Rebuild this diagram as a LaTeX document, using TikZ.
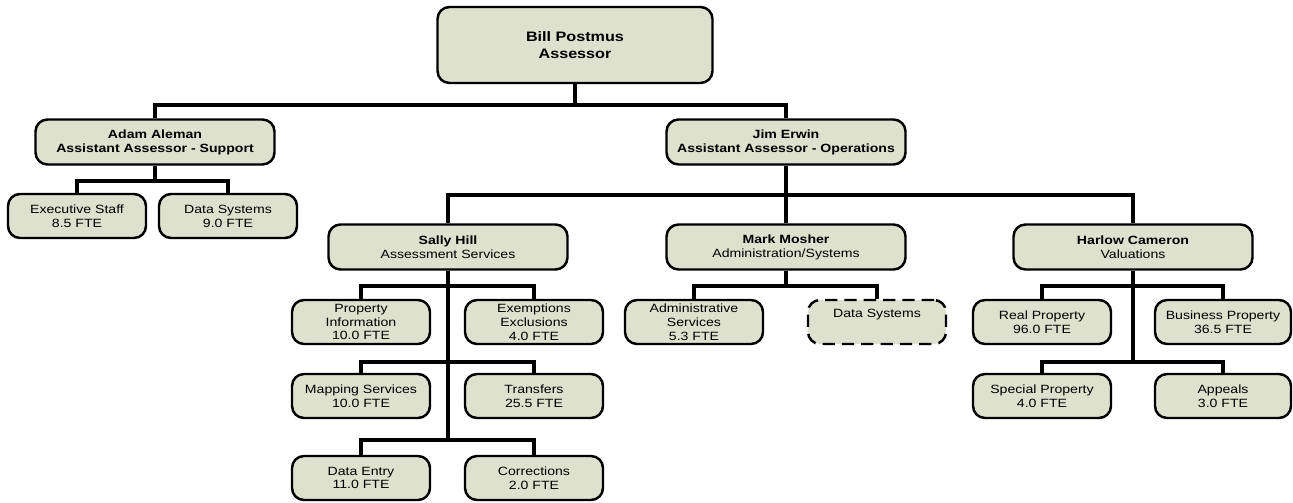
\documentclass[tikz,border=0pt]{standalone}
\usepackage{fontspec}
\setmainfont[FakeStretch=1.18]{Liberation Sans}
\usepackage{tikz}
\definecolor{boxfill}{RGB}{221,225,206}
\tikzset{
  orgbox/.style={draw,line width=1.4pt,rounded corners=0.24cm,fill=boxfill,
    align=center,inner sep=1pt,font=\fontsize{6.8}{7.9}\selectfont},
  chiefbox/.style={orgbox,minimum width=4.78cm,minimum height=0.9cm},
  staffbox/.style={orgbox,minimum width=2.76cm,minimum height=0.88cm},
  wire/.style={line width=2.3pt},
}

\begin{document}
\begin{tikzpicture}
\useasboundingbox (0,0) rectangle (25.86,10.04);
% top
\node[orgbox,minimum width=5.5cm,minimum height=1.52cm,font=\fontsize{7.8}{10}\selectfont\bfseries] (bill) at (11.5,9.14) {Bill Postmus\\Assessor};
\node[chiefbox,font=\fontsize{6.8}{7.9}\selectfont\bfseries] (adam) at (3.10,7.20) {Adam Aleman\\Assistant Assessor - Support};
\node[chiefbox,font=\fontsize{6.8}{7.9}\selectfont\bfseries] (jim) at (15.72,7.20) {Jim Erwin\\Assistant Assessor - Operations};
% support
\node[staffbox] (exec) at (1.54,5.72) {Executive Staff\\8.5 FTE};
\node[staffbox] (dsup) at (4.56,5.72) {Data Systems\\9.0 FTE};
% operations
\node[chiefbox] (sally) at (8.96,5.10) {\textbf{Sally Hill}\\Assessment Services};
\node[chiefbox] (mark) at (15.72,5.10) {\textbf{Mark Mosher}\\Administration/Systems};
\node[chiefbox] (harlow) at (22.66,5.10) {\textbf{Harlow Cameron}\\Valuations};
% assessment services
\node[staffbox] (propinfo) at (7.22,3.60) {Property\\Information\\10.0 FTE};
\node[staffbox] (exempt) at (10.68,3.60) {Exemptions\\Exclusions\\4.0 FTE};
\node[staffbox] (mapping) at (7.22,2.12) {Mapping Services\\10.0 FTE};
\node[staffbox] (transfers) at (10.68,2.12) {Transfers\\25.5 FTE};
\node[staffbox] (dataentry) at (7.22,0.48) {Data Entry\\11.0 FTE};
\node[staffbox] (corrections) at (10.68,0.48) {Corrections\\2.0 FTE};
% administration
\node[staffbox] (admin) at (13.88,3.60) {Administrative\\Services\\5.3 FTE};
\node[staffbox,dash pattern=on 7pt off 4pt] (dsmark) at (17.54,3.60) {Data Systems\\\strut};
% valuations
\node[staffbox] (real) at (20.84,3.60) {Real Property\\96.0 FTE};
\node[staffbox,minimum width=2.72cm] (business) at (24.46,3.60) {Business Property\\36.5 FTE};
\node[staffbox] (special) at (20.84,2.12) {Special Property\\4.0 FTE};
\node[staffbox,minimum width=2.72cm] (appeals) at (24.46,2.12) {Appeals\\3.0 FTE};
% bus lines
\coordinate (topbus) at (0,7.94);
\coordinate (supbus) at (0,6.42);
\coordinate (opsbus) at (0,6.14);
\coordinate (midbus) at (0,4.32);
\coordinate (lowbus) at (0,2.80);
\coordinate (endbus) at (0,1.24);
% connectors
\draw[wire] (bill.south) -- (topbus -| bill.south);
\draw[wire] (adam.north) |- (topbus -| jim.north) -- (jim.north);
\draw[wire] (adam.south) -- (supbus -| adam.south);
\draw[wire] (exec.north) |- (supbus -| dsup.north) -- (dsup.north);
\draw[wire] (jim.south) -- (opsbus -| jim.south);
\draw[wire] (sally.north) |- (opsbus -| harlow.north) -- (harlow.north);
\draw[wire] (mark.north) -- (opsbus -| mark.north);
\draw[wire] (sally.south) -- (endbus -| sally.south);
\draw[wire] (propinfo.north) |- (midbus -| exempt.north) -- (exempt.north);
\draw[wire] (mapping.north) |- (lowbus -| transfers.north) -- (transfers.north);
\draw[wire] (dataentry.north) |- (endbus -| corrections.north) -- (corrections.north);
\draw[wire] (mark.south) -- (midbus -| mark.south);
\draw[wire] (admin.north) |- (midbus -| dsmark.north) -- (dsmark.north);
\draw[wire] (harlow.south) -- (lowbus -| harlow.south);
\draw[wire] (real.north) |- (midbus -| business.north) -- (business.north);
\draw[wire] (special.north) |- (lowbus -| appeals.north) -- (appeals.north);
\end{tikzpicture}
\end{document}
